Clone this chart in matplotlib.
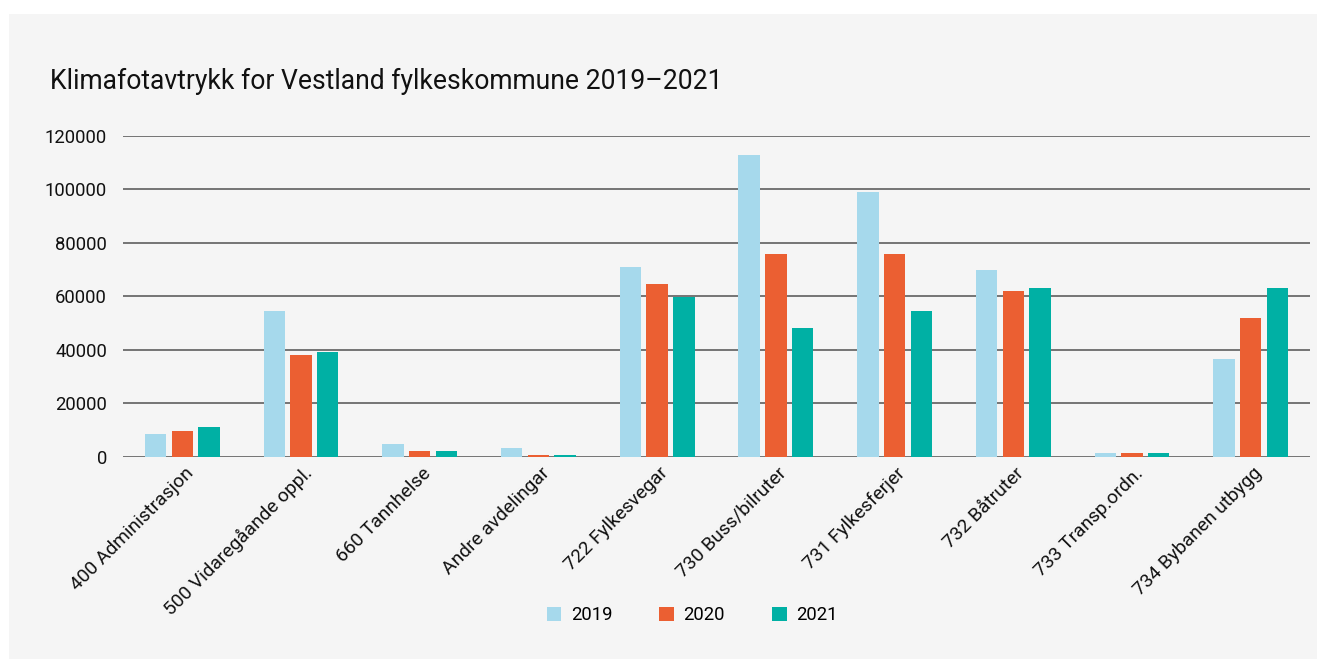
import matplotlib
matplotlib.use("Agg")
import matplotlib.pyplot as plt
import matplotlib.transforms as mtransforms
from matplotlib.patches import Rectangle
import numpy as np

plt.rcParams['font.family'] = ['Roboto', 'DejaVu Sans']

categories = ["400 Administrasjon", "500 Vidaregåande oppl.", "660 Tannhelse",
              "Andre avdelingar", "722 Fylkesvegar", "730 Buss/bilruter",
              "731 Fylkesferjer", "732 Båtruter", "733 Transp.ordn.",
              "734 Bybanen utbygg"]
series_names = ["2019", "2020", "2021"]
v2019 = [8500, 54400, 4600, 3300, 70800, 112900, 98900, 69600, 1300, 36400]
v2020 = [9600, 38000, 2100, 700, 64500, 75900, 75900, 62000, 1300, 51700]
v2021 = [11000, 39100, 2100, 800, 59600, 48000, 54300, 63200, 1300, 63100]
yticks = [0, 20000, 40000, 60000, 80000, 100000, 120000]
title = "Klimafotavtrykk for Vestland fylkeskommune 2019\u20132021"

colors = ["#a6d9ec", "#eb5f32", "#00b0a4"]
W, H = 1317, 659
fig = plt.figure(figsize=(W / 100, H / 100), dpi=100)
fig.patch.set_facecolor("white")
bg = Rectangle((9 / W, 0), 1 - 9 / W, 1 - 14 / H, transform=fig.transFigure,
               facecolor="#f5f5f5", edgecolor="none", zorder=-10)
fig.add_artist(bg)

left, right = 123 / W, 1310 / W
bottom, top = 1 - 456.7 / H, 1 - 135.6 / H
ax = fig.add_axes([left, bottom, right - left, top - bottom])
ax.set_facecolor("none")

x = np.arange(len(categories))
step = 0.225
width = 0.181
for i, (vals, c, name) in enumerate(zip([v2019, v2020, v2021], colors, series_names)):
    ax.bar(x + (i - 1) * step, vals, width=width, color=c, label=name, zorder=3)

ax.set_xlim(-0.5, len(categories) - 0.5)
ax.set_ylim(0, 120000)
ax.set_yticks(yticks)
ax.set_yticklabels([str(t) for t in yticks], fontsize=13.3, color="#111111")
ax.tick_params(axis="y", length=0, pad=11.5)
ax.grid(axis="y", color="#5e5e5e", linewidth=1.2, zorder=1)
ax.set_axisbelow(True)
for s in ax.spines.values():
    s.set_visible(False)

ax.set_xticks(x)
ax.set_xticklabels(categories, rotation=45, ha="right", va="center",
                   rotation_mode="anchor", fontsize=13.8, color="#111111")
ax.tick_params(axis="x", length=0, pad=10)
offset = mtransforms.ScaledTranslation(8 / 100, 0, fig.dpi_scale_trans)
for lab in ax.get_xticklabels():
    lab.set_transform(lab.get_transform() + offset)

fig.text(50 / W, 1 - 89 / H, title, fontsize=19.1, color="#111111",
         ha="left", va="baseline")

leg = fig.legend(loc="center", bbox_to_anchor=(692 / W, 1 - 615 / H), ncol=3,
                 frameon=False, fontsize=13.3, handlelength=0.8, handleheight=0.8,
                 handletextpad=0.5, columnspacing=2.55)

fig.savefig("out.png", dpi=100, facecolor=fig.get_facecolor())
